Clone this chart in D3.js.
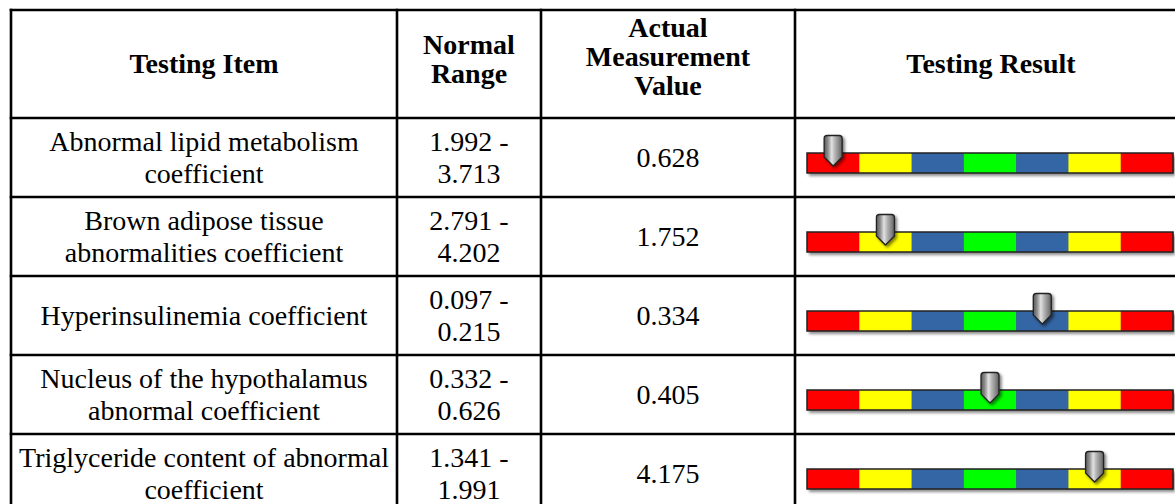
<!DOCTYPE html>
<html>
<head>
<meta charset="utf-8">
<script src="https://cdn.jsdelivr.net/npm/d3@7"></script>
<style>
  html, body { margin: 0; padding: 0; background: #fff; overflow: hidden; }
  svg { display: block; }
</style>
</head>
<body>
<svg id="chart" width="1175" height="504"></svg>
<script>
// ---------------- data ----------------
const headers = [["Testing Item"], ["Normal", "Range"], ["Actual", "Measurement", "Value"], ["Testing Result"]];
const itemLines = [
  ["Abnormal lipid metabolism", "coefficient"],
  ["Brown adipose tissue", "abnormalities coefficient"],
  ["Hyperinsulinemia coefficient"],
  ["Nucleus of the hypothalamus", "abnormal coefficient"],
  ["Triglyceride content of abnormal", "coefficient"]
];
const rangeLow  = [1.992, 2.791, 0.097, 0.332, 1.341];
const rangeHigh = [3.713, 4.202, 0.215, 0.626, 1.991];
const measured  = [0.628, 1.752, 0.334, 0.405, 4.175];
const resultLevel = [0, 1, 4, 3, 5];          // index of the coloured segment the pointer sits on
const segmentColors = ["#ff0000", "#ffff00", "#3465a4", "#00ff00", "#3465a4", "#ffff00", "#ff0000"];

// ---------------- layout ----------------
const colEdges = [11, 397, 541, 795, 1187];
const headerTop = 10, headerBottom = 118, rowH = 79;
const fontSize = 28, bodyLineGap = 31.5, headLineGap = 29, capHalf = 9.3;
const headShift = {1: 0, 2: -4.5, 3: -7};

const svg = d3.select("#chart");
const defs = svg.append("defs");

const shadow = defs.append("filter").attr("id", "shadow")
  .attr("x", "-10%").attr("y", "-40%").attr("width", "130%").attr("height", "220%");
shadow.append("feDropShadow").attr("dx", 2).attr("dy", 3).attr("stdDeviation", 1.6)
  .attr("flood-color", "#000").attr("flood-opacity", 0.45);

const pshadow = defs.append("filter").attr("id", "pshadow")
  .attr("x", "-50%").attr("y", "-30%").attr("width", "220%").attr("height", "170%");
pshadow.append("feDropShadow").attr("dx", 2).attr("dy", 2).attr("stdDeviation", 1.5)
  .attr("flood-color", "#000").attr("flood-opacity", 0.5);

const grad = defs.append("linearGradient").attr("id", "metal").attr("x1", "0").attr("x2", "1").attr("y1", "0").attr("y2", "0");
[[0, "#5a5a5a"], [0.2, "#8a8a8a"], [0.42, "#e2e2e2"], [0.58, "#b8b8b8"], [0.8, "#8c8c8c"], [1, "#606060"]]
  .forEach(([o, c]) => grad.append("stop").attr("offset", o).attr("stop-color", c));

// scales
const rowScale = d3.scaleBand().domain(d3.range(itemLines.length))
  .range([headerBottom, headerBottom + rowH * itemLines.length]).padding(0);
const colScale = d3.scaleOrdinal().domain(d3.range(4)).range(colEdges.slice(0, 4));
const colW = i => colEdges[i + 1] - colEdges[i];
const colCenter = i => colScale(i) + colW(i) / 2;

// ---------------- header ----------------
const headerCenter = (headerTop + headerBottom) / 2;
headers.forEach((lines, c) => {
  const n = lines.length;
  const t = svg.append("text")
    .attr("text-anchor", "middle")
    .attr("font-family", "'Liberation Serif', 'Times New Roman', serif")
    .attr("font-weight", "bold")
    .attr("font-size", fontSize)
    .attr("fill", "#000");
  lines.forEach((ln, i) => {
    t.append("tspan").attr("x", colCenter(c))
      .attr("y", headerCenter + headShift[n] + capHalf + (i - (n - 1) / 2) * headLineGap)
      .text(ln);
  });
});

// ---------------- body text ----------------
function cellText(lines, c, r) {
  const n = lines.length;
  const cy = rowScale(r) + rowScale.bandwidth() / 2;
  const t = svg.append("text")
    .attr("text-anchor", "middle")
    .attr("font-family", "'Liberation Serif', 'Times New Roman', serif")
    .attr("font-size", fontSize)
    .attr("fill", "#000");
  lines.forEach((ln, i) => {
    t.append("tspan").attr("x", colCenter(c))
      .attr("y", cy + capHalf + (i - (n - 1) / 2) * bodyLineGap)
      .text(ln);
  });
}
itemLines.forEach((lines, r) => {
  cellText(lines, 0, r);
  cellText([rangeLow[r].toFixed(3) + " -", rangeHigh[r].toFixed(3)], 1, r);
  cellText([measured[r].toFixed(3)], 2, r);
});

// ---------------- result gauges ----------------
const segScale = d3.scaleBand().domain(d3.range(segmentColors.length))
  .range([colScale(3) + 12, colEdges[4] - 14]).padding(0);
const barH = 20;

itemLines.forEach((_, r) => {
  const cy = rowScale(r) + rowScale.bandwidth() / 2;
  const barY = cy + 5.5 - barH / 2;
  const g = svg.append("g");
  const x0 = segScale.range()[0], x1 = segScale.range()[1];
  g.append("rect").attr("x", x0).attr("y", barY).attr("width", x1 - x0).attr("height", barH)
    .attr("fill", "#333").attr("filter", "url(#shadow)");
  g.selectAll("rect.seg").data(segmentColors).join("rect").attr("class", "seg")
    .attr("x", (d, i) => segScale(i))
    .attr("y", barY)
    .attr("width", segScale.bandwidth() + 0.5)
    .attr("height", barH)
    .attr("fill", d => d);
  g.append("rect").attr("x", x0).attr("y", barY).attr("width", x1 - x0).attr("height", barH)
    .attr("fill", "none").attr("stroke", "#222").attr("stroke-width", 1.5);

  // pointer
  const px = segScale(resultLevel[r]) + segScale.bandwidth() / 2;
  const top = cy - 22, shoulder = cy - 0.5, tip = cy + 8.5, hw = 9;
  const path = d3.path();
  path.moveTo(px - hw, top + 3);
  path.quadraticCurveTo(px - hw, top, px - hw + 3, top);
  path.lineTo(px + hw - 3, top);
  path.quadraticCurveTo(px + hw, top, px + hw, top + 3);
  path.lineTo(px + hw, shoulder);
  path.lineTo(px, tip);
  path.lineTo(px - hw, shoulder);
  path.closePath();
  g.append("path").attr("d", path.toString())
    .attr("fill", "url(#metal)").attr("stroke", "#222").attr("stroke-width", 1.3)
    .attr("stroke-linejoin", "round").attr("filter", "url(#pshadow)");
});

// ---------------- grid lines ----------------
const bottom = headerBottom + rowH * itemLines.length;
const hLines = [headerTop, headerBottom].concat(d3.range(1, itemLines.length + 1).map(i => headerBottom + rowH * i));
svg.append("g").selectAll("line").data(hLines).join("line")
  .attr("x1", colEdges[0] - 1.3).attr("x2", colEdges[4])
  .attr("y1", d => d).attr("y2", d => d)
  .attr("stroke", "#000").attr("stroke-width", 2.6);
svg.append("g").selectAll("line").data(colEdges).join("line")
  .attr("x1", d => d).attr("x2", d => d)
  .attr("y1", headerTop - 1.3).attr("y2", bottom + 1.3)
  .attr("stroke", "#000").attr("stroke-width", 2.6);
</script>
</body>
</html>
